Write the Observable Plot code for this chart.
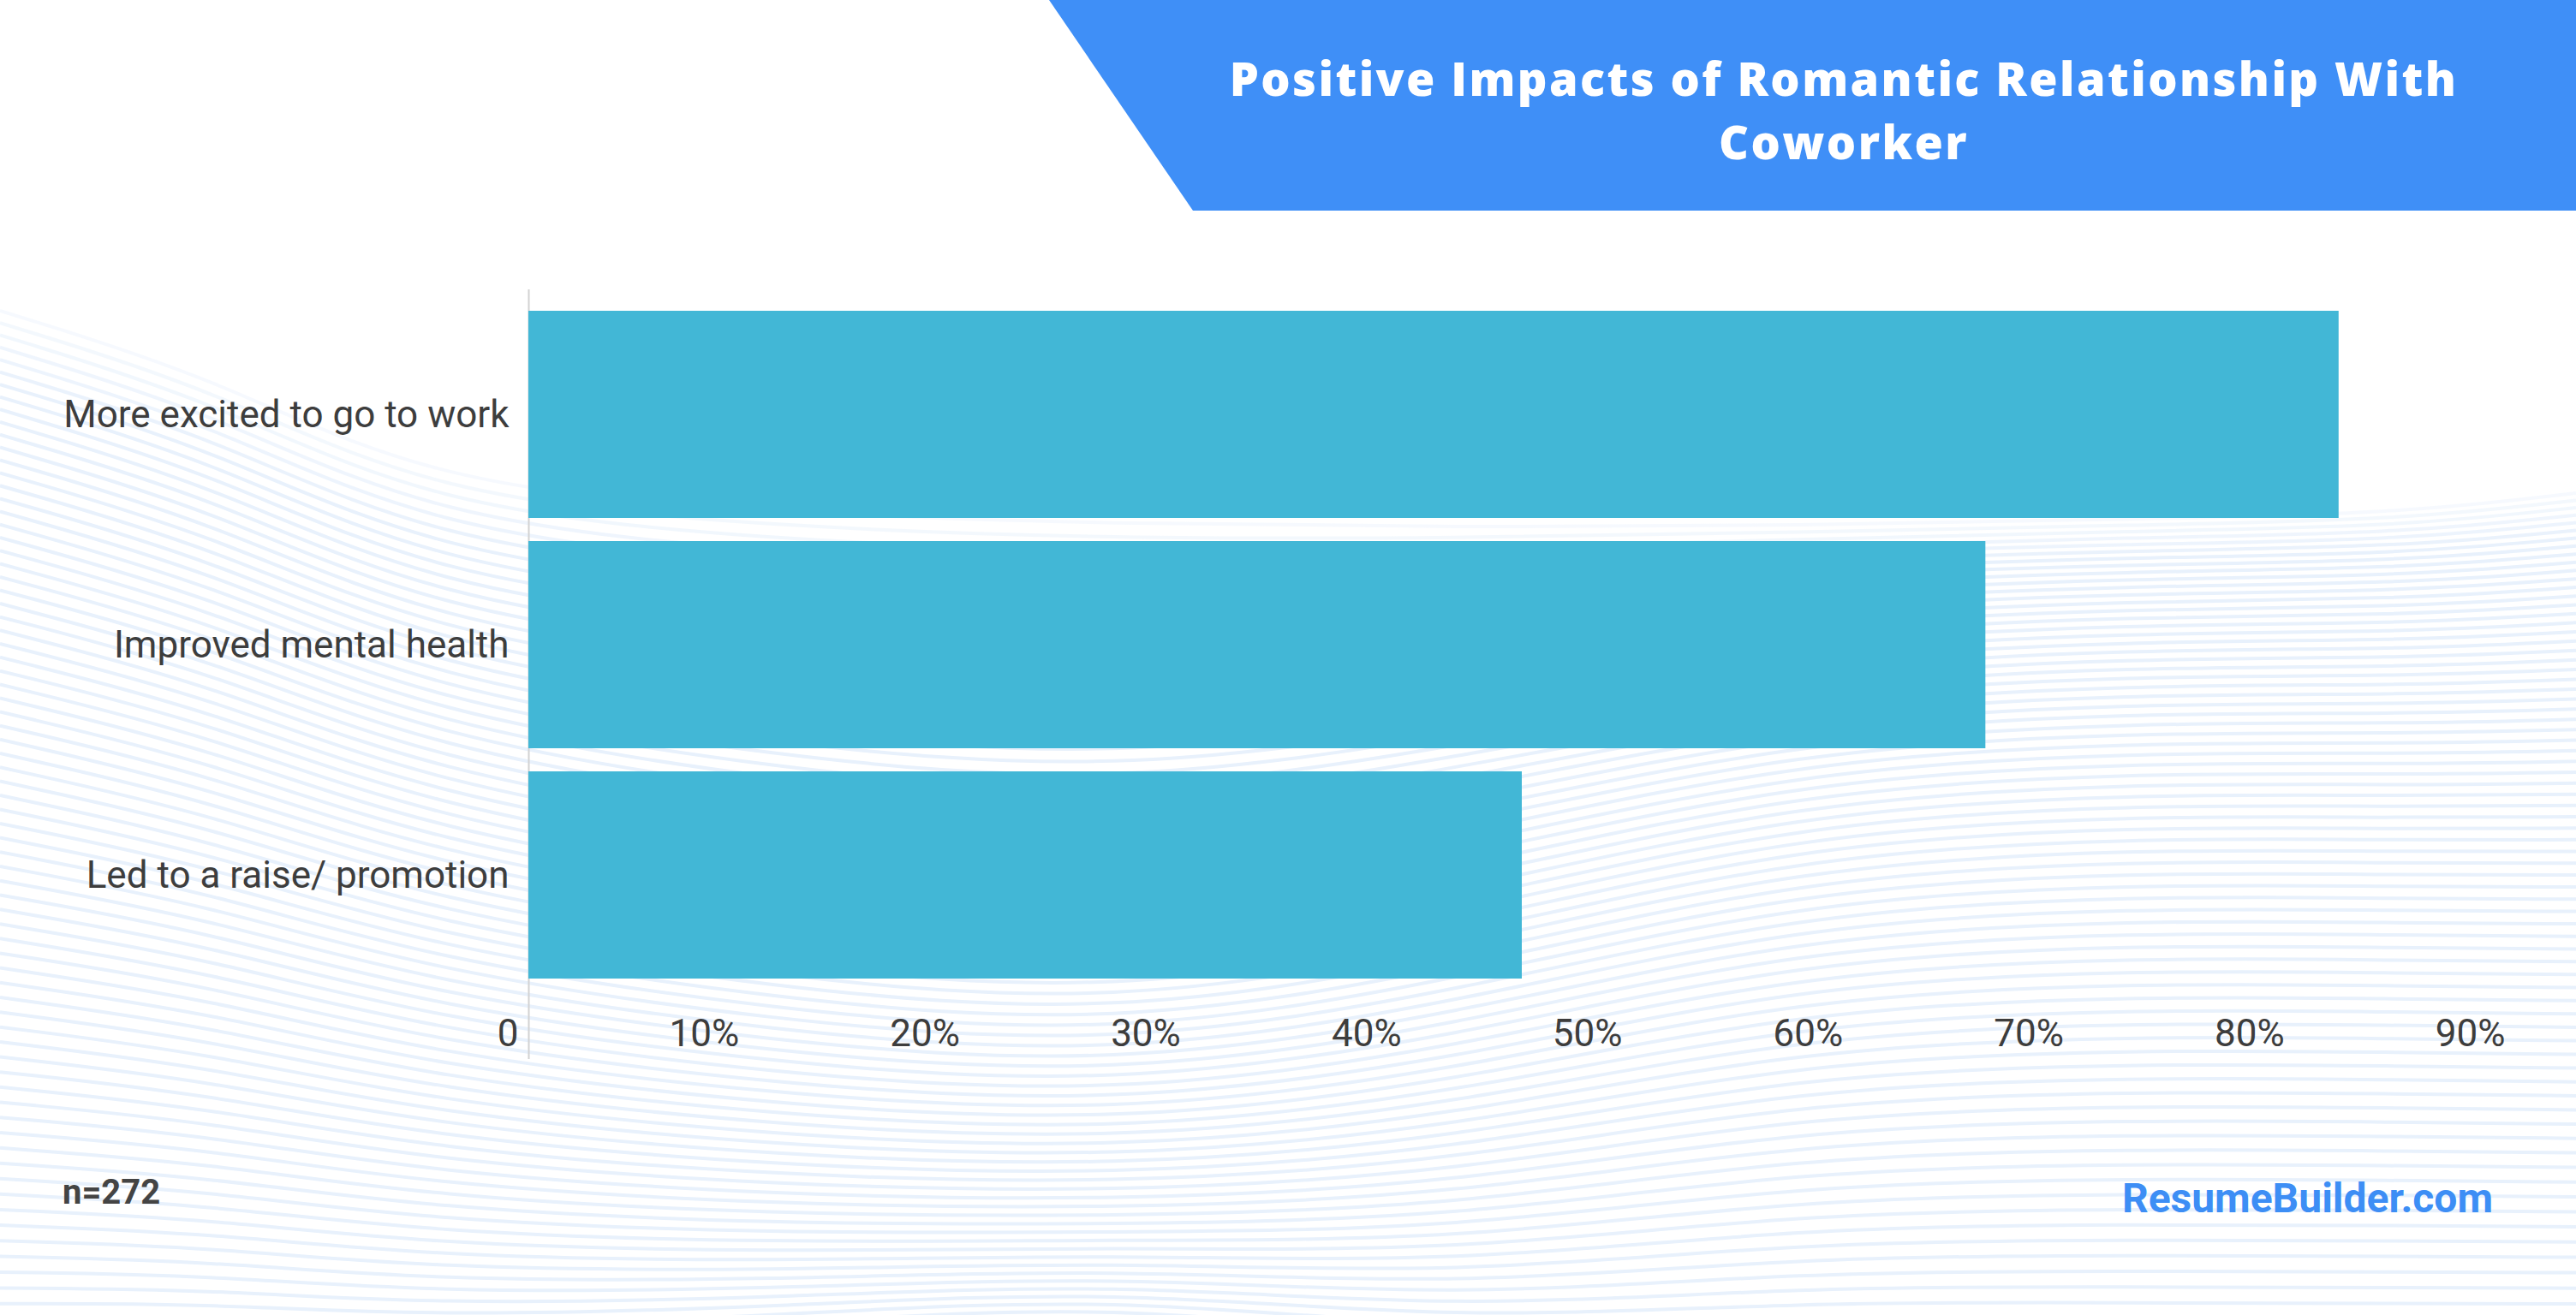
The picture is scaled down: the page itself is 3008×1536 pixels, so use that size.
<!DOCTYPE html>
<html>
<head>
<meta charset="utf-8">
<script src="https://cdn.jsdelivr.net/npm/d3@7"></script>
<script src="https://cdn.jsdelivr.net/npm/@observablehq/plot@0.6"></script>
<style>
  html, body { margin: 0; padding: 0; background: #ffffff; }
  #page { position: relative; width: 3008px; height: 1536px; overflow: hidden; background: #ffffff; }
  #waves, #chart, #overlay { position: absolute; left: 0; top: 0; }
  #chart svg { display: block; }
</style>
</head>
<body>
<div id="page">
  <svg id="waves" width="3008" height="1536"></svg>
  <div id="chart"></div>
  <svg id="overlay" width="3008" height="1536"></svg>
</div>
<script>
// Survey answers (share of respondents, %)
const categories = [
  "More excited to go to work",
  "Improved mental health",
  "Led to a raise/ promotion"
];
const shares = [82, 66, 45];

// Axis ticks (%)
const xTicks = [0, 10, 20, 30, 40, 50, 60, 70, 80, 90];

// Texts
const titleLines = ["Positive Impacts of Romantic Relationship With", "Coworker"];
const sampleNote = "n=272";
const brandName = "ResumeBuilder.com";

const rows = categories.map((category, i) => ({category, share: shares[i]}));

const labelFont = "Roboto, 'Noto Sans', sans-serif";
const titleFont = "'Open Sans', 'Noto Sans', sans-serif";
const ink = "#3d3d3d";

// ---- decorative background: soft flowing stripes ----
(function drawWaves() {
  const svg = d3.select("#waves");
  const knotsX = [0, 250, 500, 900, 1300, 1700, 2100, 2500, 2800, 3008];
  const topEdge = [363, 440, 566, 600, 612, 616, 614, 606, 600, 576];
  const midCtrl = [880, 950, 1050, 1170, 1250, 1080, 900, 860, 870, 880];
  const bottomEdge = [1560, 1556, 1566, 1548, 1520, 1570, 1556, 1560, 1560, 1560];
  const n = 74;
  const line = d3.line().curve(d3.curveBasis);
  const g = svg.append("g").attr("fill", "none").attr("stroke", "#e8f1fc").attr("stroke-width", 4);
  for (let i = 0; i < n; i++) {
    const t = i / (n - 1);
    const pts = knotsX.map((x, k) => [
      x,
      (1 - t) * (1 - t) * topEdge[k] + 2 * t * (1 - t) * midCtrl[k] + t * t * bottomEdge[k]
    ]);
    g.append("path").attr("d", line(pts)).attr("opacity", i < 6 ? 0.4 + i * 0.1 : 1);
  }
})();

// ---- chart ----
const pct = d => d === 0 ? "0" : `${d}%`;

const chart = Plot.plot({
  width: 3008,
  height: 1300,
  marginTop: 338,
  marginBottom: 63,
  marginLeft: 617,
  marginRight: 71,
  style: {background: "transparent", fontFamily: labelFont, color: ink, overflow: "visible"},
  x: {domain: [0, 90], ticks: xTicks, tickFormat: pct},
  y: {domain: categories, range: [349.5, 1156.5], paddingInner: 0.1, paddingOuter: 0.05},
  marks: [
    Plot.ruleX([0], {stroke: "#d2d2d2", strokeWidth: 2}),
    Plot.barX(rows, {x: "share", y: "category", fill: "#42b7d6"}),
    Plot.axisY({
      tickSize: 0, tickPadding: 23, fontSize: 44, fill: ink, label: null
    }),
    Plot.axisX({
      ticks: xTicks, tickFormat: pct, tickSize: 0, tickPadding: 0,
      lineAnchor: "middle", textAnchor: "end", dx: -12, dy: -30,
      fontSize: 44, fill: ink, label: null
    })
  ]
});
document.getElementById("chart").appendChild(chart);

// ---- header banner and footer notes ----
const overlay = d3.select("#overlay");
overlay.append("polygon")
  .attr("points", "1225,0 3008,0 3008,246 1393,246")
  .attr("fill", "#3f8ff7");
overlay.append("g")
  .attr("font-family", titleFont)
  .attr("font-weight", 800)
  .attr("font-size", 54)
  .attr("letter-spacing", "2.4px")
  .attr("fill", "#ffffff")
  .attr("text-anchor", "middle")
  .selectAll("text")
  .data(titleLines)
  .join("text")
  .attr("x", 2153)
  .attr("y", (d, i) => 112 + i * 74)
  .text(d => d);

overlay.append("text")
  .attr("x", 73).attr("y", 1406)
  .attr("font-family", labelFont).attr("font-weight", 700).attr("font-size", 40)
  .attr("fill", "#444444")
  .text(sampleNote);

overlay.append("text")
  .attr("x", 2911).attr("y", 1416)
  .attr("text-anchor", "end")
  .attr("font-family", labelFont).attr("font-weight", 700).attr("font-size", 48)
  .attr("fill", "#3d8ef5")
  .text(brandName);
</script>
</body>
</html>
